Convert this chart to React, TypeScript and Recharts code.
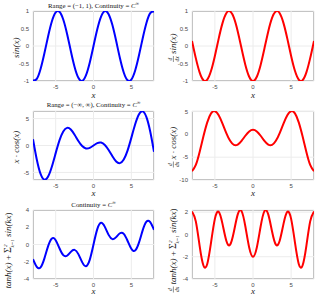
import { LineChart, Line, XAxis, YAxis, CartesianGrid } from 'recharts'

// sample positions along x
const xs = [-8, -7.5, -7, -6.5, -6, -5.5, -5, -4.5, -4, -3.5, -3, -2.5, -2, -1.5, -1, -0.5, 0, 0.5, 1, 1.5, 2, 2.5, 3, 3.5, 4, 4.5, 5, 5.5, 6, 6.5, 7, 7.5, 8]

const sinVals = [-0.989, -0.938, -0.657, -0.215, 0.279, 0.706, 0.959, 0.978, 0.757, 0.351, -0.141, -0.598, -0.909, -0.997, -0.841, -0.479, 0, 0.479, 0.841, 0.997, 0.909, 0.598, 0.141, -0.351, -0.757, -0.978, -0.959, -0.706, -0.279, 0.215, 0.657, 0.938, 0.989]
const dSinVals = [0.146, -0.347, -0.754, -0.977, -0.96, -0.709, -0.284, 0.211, 0.654, 0.936, 0.99, 0.801, 0.416, -0.071, -0.54, -0.878, -1, -0.878, -0.54, -0.071, 0.416, 0.801, 0.99, 0.936, 0.654, 0.211, -0.284, -0.709, -0.96, -0.977, -0.754, -0.347, 0.146]
const xcosVals = [1.164, -2.602, -5.277, -6.353, -5.761, -3.9, -1.418, 0.95, 2.615, 3.276, 2.97, 2.003, 0.832, -0.106, -0.54, -0.439, 0, 0.439, 0.54, 0.106, -0.832, -2.003, -2.97, -3.276, -2.615, -0.95, 1.418, 3.9, 5.761, 6.353, 5.277, 2.602, -1.164]
const dXcosVals = [-8.061, -6.688, -3.845, -0.42, 2.636, 4.592, 5.079, 4.188, 2.373, 0.292, -1.413, -2.297, -2.235, -1.425, -0.301, 0.638, 1, 0.638, -0.301, -1.425, -2.235, -2.297, -1.413, 0.292, 2.373, 4.188, 5.079, 4.592, 2.636, -0.42, -3.845, -6.688, -8.061]
const tanhSumVals = [-1.701, -2.588, -2.648, -1.635, -0.184, 0.706, 0.503, -0.434, -1.231, -1.304, -0.857, -0.626, -1.116, -2.043, -2.512, -1.782, 0, 1.782, 2.512, 2.043, 1.116, 0.626, 0.857, 1.304, 1.231, 0.434, -0.503, -0.706, 0.184, 1.635, 2.648, 2.588, 1.701]
const dTanhSumVals = [2.062, 1.173, -1.028, -2.791, -2.648, -0.717, 1.394, 2.033, 0.947, -0.568, -0.92, 0.26, 1.795, 2.09, 0.712, -1.172, -2, -1.172, 0.712, 2.09, 1.795, 0.26, -0.92, -0.568, 0.947, 2.033, 1.394, -0.717, -2.648, -2.791, -1.028, 1.173, 2.062]

const xTicks = [-5, 0, 5]
const unitTicks = [-1, -0.5, 0, 0.5, 1]
const xcosTicks = [-5, 0, 5]
const dXcosTicks = [-10, -5, 0, 5]
const tanhTicks = [-4, -2, 0, 2, 4]
const dTanhTicks = [-4, -2, 0, 2]

const BLUE = '#0000ff'
const RED = '#ff0000'
const SANS = '"Liberation Sans", Arial, sans-serif'
const SERIF = '"Liberation Serif", "DejaVu Serif", serif'

const cols = [{ x0: 33, x1: 154 }, { x0: 192, x1: 314 }]
const rows = [{ y0: 11, y1: 81 }, { y0: 111, y1: 180 }, { y0: 210, y1: 279 }]

const padL = 30
const padT = 8
const padR = 6
const padB = 14

type PanelProps = {
  col: number
  row: number
  values: number[]
  color: string
  domain: [number, number]
  ticks: number[]
}

const Panel = ({ col, row, values, color, domain, ticks }: PanelProps) => {
  const { x0, x1 } = cols[col]
  const { y0, y1 } = rows[row]
  const data = xs.map((x, i) => ({ x, y: values[i] }))
  const tick = { fontSize: 6, fill: '#4a4a4a', fontFamily: SANS }
  return (
    <>
      <div style={{ position: 'absolute', left: x0, top: y0, width: x1 - x0, height: y1 - y0, border: '1px solid #9c9c9c', boxSizing: 'border-box' }} />
      <div style={{ position: 'absolute', left: x0 - padL, top: y0 - padT }}>
        <LineChart width={x1 - x0 + padL + padR} height={y1 - y0 + padT + padB} data={data} margin={{ top: padT, right: padR, bottom: 0, left: 0 }}>
          <CartesianGrid stroke="#ececec" />
          <XAxis dataKey="x" type="number" domain={[-8, 8]} ticks={xTicks} allowDataOverflow height={padB} axisLine={false} tickLine={false} tickSize={0} tick={tick} tickMargin={3.5} />
          <YAxis type="number" domain={domain} ticks={ticks} allowDataOverflow width={padL} axisLine={false} tickLine={false} tickSize={0} tick={tick} tickMargin={4} />
          <Line type="natural" dataKey="y" stroke={color} strokeWidth={2} dot={false} isAnimationActive={false} />
        </LineChart>
      </div>
    </>
  )
}

// d/dx fraction drawn in rotated label coordinates
const Frac = ({ x }: { x: number }) => (
  <g>
    <text x={x} y={-3.6} fontSize={5.5} textAnchor="middle" fontStyle="italic">d</text>
    <line x1={x - 3} x2={x + 3} y1={-2.6} y2={-2.6} stroke="#222" strokeWidth={0.5} />
    <text x={x} y={2.8} fontSize={5.5} textAnchor="middle" fontStyle="italic">dx</text>
  </g>
)

const SumPart = () => (
  <>
    <tspan fontStyle="normal">{' + '}</tspan>
    <tspan fontStyle="normal" fontSize={10}>Σ</tspan>
    <tspan fontSize={5} dy={-4.5}>2</tspan>
    <tspan fontSize={5} dx={-2.8} dy={7}>k=1</tspan>
    <tspan dy={-2.5}>{' sin('}</tspan>
    <tspan>kx</tspan>
    <tspan fontStyle="normal">)</tspan>
  </>
)

const YLabel = ({ cx, cy, frac, len, children }: { cx: number; cy: number; frac?: boolean; len: number; children: any }) => {
  const total = len + (frac ? 8 : 0)
  const start = -total / 2
  return (
    <g transform={`translate(${cx},${cy}) rotate(-90)`} fontFamily={SERIF} fontSize={9} fill="#222">
      {frac && <Frac x={start + 3} />}
      <text x={start + (frac ? 8 : 0)} y={0} fontStyle="italic">{children}</text>
    </g>
  )
}

const Title = ({ x, y, children }: { x: number; y: number; children: any }) => (
  <text x={x} y={y} textAnchor="middle" fontFamily={SERIF} fontSize={6.8} fill="#111">{children}</text>
)

const CInf = () => (
  <>
    <tspan fontStyle="italic">C</tspan>
    <tspan fontSize={4.8} dy={-3}>∞</tspan>
  </>
)

const XLabel = ({ x, y }: { x: number; y: number }) => (
  <text x={x} y={y} textAnchor="middle" fontFamily={SERIF} fontStyle="italic" fontSize={9} fill="#222">x</text>
)

const App = () => {
  const lc = (cols[0].x0 + cols[0].x1) / 2
  const rc = (cols[1].x0 + cols[1].x1) / 2
  const rm = rows.map((r) => (r.y0 + r.y1) / 2)
  return (
    <div style={{ position: 'absolute', left: 0, top: 0, width: 334, height: 294, background: '#fff', overflow: 'hidden', fontFamily: SANS }}>
      <Panel col={0} row={0} values={sinVals} color={BLUE} domain={[-1, 1]} ticks={unitTicks} />
      <Panel col={1} row={0} values={dSinVals} color={RED} domain={[-1, 1]} ticks={unitTicks} />
      <Panel col={0} row={1} values={xcosVals} color={BLUE} domain={[-6.41, 6.41]} ticks={xcosTicks} />
      <Panel col={1} row={1} values={dXcosVals} color={RED} domain={[-10, 5.12]} ticks={dXcosTicks} />
      <Panel col={0} row={2} values={tanhSumVals} color={BLUE} domain={[-4, 4]} ticks={tanhTicks} />
      <Panel col={1} row={2} values={dTanhSumVals} color={RED} domain={[-4, 2.19]} ticks={dTanhTicks} />
      <svg width={334} height={294} style={{ position: 'absolute', left: 0, top: 0, pointerEvents: 'none' }}>
        <Title x={lc} y={8}>Range = (−1, 1), Continuity = <CInf /></Title>
        <Title x={lc} y={106.5}>Range = (−∞, ∞), Continuity = <CInf /></Title>
        <Title x={lc} y={206.5}>Continuity = <CInf /></Title>

        <XLabel x={lc} y={97.5} />
        <XLabel x={rc} y={97.5} />
        <XLabel x={lc} y={196} />
        <XLabel x={rc} y={196} />
        <XLabel x={lc} y={294} />
        <XLabel x={rc} y={294} />

        <YLabel cx={19} cy={rm[0]} len={24}>sin(x)</YLabel>
        <YLabel cx={176} cy={rm[0]} len={24} frac>sin(x)</YLabel>
        <YLabel cx={19} cy={rm[1]} len={36}>x · cos(x)</YLabel>
        <YLabel cx={176} cy={rm[1]} len={36} frac>x · cos(x)</YLabel>
        <YLabel cx={11} cy={rm[2]} len={88}>tanh(x)<SumPart /></YLabel>
        <YLabel cx={176} cy={rm[2]} len={88} frac>tanh(x)<SumPart /></YLabel>
      </svg>
    </div>
  )
}

export default App
